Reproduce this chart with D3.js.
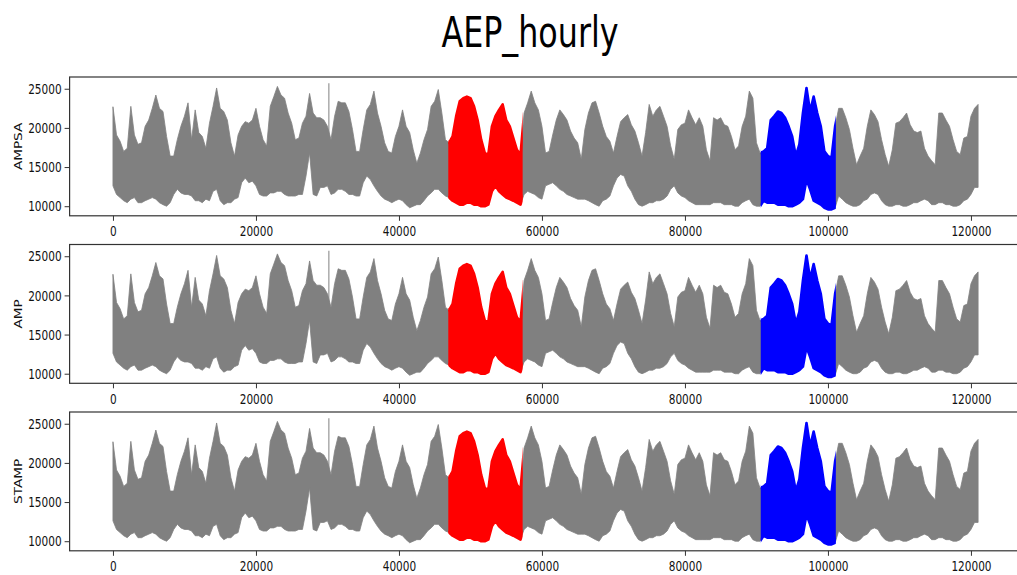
<!DOCTYPE html>
<html><head><meta charset="utf-8">
<script src="https://cdn.jsdelivr.net/npm/d3@7"></script>
<style>body{margin:0;background:#fff}</style>
</head><body><svg id="c" width="1017" height="575"></svg>
<script>
// ---------- data ----------
const title = "AEP_hourly";
const seriesNames = ["AMPSA", "AMP", "STAMP"];
const nHours = 121272;
const stepHours = 500;
// envelope of the hourly load, one sample every 500 hours (MW / 1000)
const hiK = [
 22.7,19.1,18.3,17.0,17.4,22.75,19.1,17.9,18.1,20.2,
 21.0,22.5,24.2,22.5,22.1,18.9,16.4,16.4,18.5,20.2,
 21.5,23.2,18.5,22.3,19.4,18.9,17.4,20.6,22.75,25.1,
 22.5,22.1,21.0,18.1,16.4,19.1,20.2,20.8,20.6,21.0,
 22.5,20.2,18.5,17.7,22.75,24.0,25.3,24.2,23.8,21.9,
 20.6,18.5,18.7,20.6,21.5,24.4,21.9,21.3,21.3,21.0,
 20.2,18.5,21.5,23.4,23.2,23.2,22.1,19.8,17.0,17.0,
 19.8,22.3,23.0,24.7,21.9,20.2,18.1,17.0,16.8,18.9,
 20.2,22.3,20.2,19.4,17.2,15.5,16.8,18.5,19.8,22.75,
 23.4,24.9,21.9,18.5,18.1,18.9,21.5,23.4,23.8,24.0,
 23.8,22.75,21.0,18.5,16.8,16.6,20.2,21.5,22.3,23.0,
 21.0,20.2,18.7,17.2,16.6,21.9,23.2,24.7,23.2,22.3,
 20.2,16.8,17.0,19.1,21.0,22.3,21.7,21.0,19.6,18.7,
 18.1,16.0,19.8,21.9,23.2,23.4,21.9,20.2,18.9,18.3,
 16.8,18.9,20.8,21.3,21.7,20.4,19.6,18.1,16.4,19.4,
 23.0,21.5,22.3,22.75,21.5,20.2,17.7,16.0,19.8,20.4,
 20.6,22.3,21.3,20.4,21.3,20.2,17.2,15.8,21.3,21.0,
 21.3,20.4,20.2,18.9,17.2,17.7,20.2,21.5,24.7,23.8,
 18.1,16.8,17.0,17.4,21.0,21.5,22.1,21.9,21.3,20.2,
 18.9,16.4,17.9,21.9,25.1,22.1,24.0,21.9,20.2,17.0,
 16.4,16.2,20.2,22.5,22.5,21.3,19.8,17.4,15.3,16.4,
 17.4,20.2,22.3,21.7,20.8,18.5,16.6,15.1,17.2,20.6,
 20.8,21.3,21.9,20.4,19.6,19.4,19.6,17.4,16.4,15.8,
 15.3,21.9,21.9,21.0,20.2,18.5,17.0,16.6,18.7,18.9,
 21.5,22.5,23.0];
const loK = [
 12.6,11.5,11.1,10.7,10.45,10.9,11.1,10.45,10.45,10.7,
 10.9,11.1,10.9,10.45,10.2,10.0,10.45,11.5,12.15,11.7,
 11.5,11.5,11.3,10.7,10.7,10.45,10.9,10.7,11.9,12.15,
 10.7,10.2,10.45,10.45,10.9,11.1,13.0,13.6,13.0,13.2,
 12.6,11.5,11.3,11.3,11.7,11.7,11.9,11.9,11.5,11.3,
 11.3,11.3,11.5,11.5,13.85,16.8,11.5,11.3,12.4,12.4,
 12.6,11.5,11.7,12.15,12.15,11.9,11.5,11.5,11.3,11.3,
 13.0,13.85,13.4,12.6,11.9,11.3,10.9,10.7,10.45,10.7,
 10.9,10.7,10.2,9.8,10.0,10.2,10.2,10.7,11.3,11.7,
 12.15,12.15,11.7,11.3,11.1,10.7,10.45,10.2,10.2,10.45,
 10.45,10.2,10.2,10.0,10.0,10.2,11.9,12.6,11.9,11.5,
 11.1,10.9,10.7,10.45,10.2,11.5,11.9,11.7,11.5,11.1,
 10.9,12.6,12.8,13.0,12.6,12.15,11.9,11.5,11.3,11.1,
 10.9,10.9,10.9,10.7,10.45,10.2,10.0,10.7,10.9,11.3,
 12.6,13.6,14.05,13.85,12.6,11.9,10.9,10.2,10.0,10.2,
 10.45,10.45,10.7,10.7,10.9,11.3,12.15,12.6,11.7,11.3,
 11.1,10.7,10.45,10.2,10.2,10.2,10.2,10.2,10.45,10.45,
 10.45,10.2,10.2,10.2,10.0,10.0,10.45,10.7,10.9,10.2,
 10.0,10.0,10.7,10.45,10.45,10.45,10.2,10.2,10.2,10.0,
 10.0,10.2,10.45,10.9,13.4,12.15,10.7,10.45,10.2,9.8,
 9.6,9.6,9.8,11.3,10.9,10.45,10.2,10.0,10.0,10.2,
 10.7,10.9,11.5,11.7,11.5,10.7,10.2,10.0,10.0,10.2,
 10.2,10.0,10.0,10.2,10.45,10.45,10.7,10.9,10.7,10.2,
 10.2,10.45,10.45,10.2,10.2,10.0,10.0,10.2,10.7,10.9,
 11.5,12.4,12.4];
const spikeHours = [30200];
const spikeK = [25.7];
const redSpan = [46900, 57300];
const blueSpan = [90600, 101100];
const xTicks = [0, 20000, 40000, 60000, 80000, 100000, 120000];
const yTicks = [10000, 15000, 20000, 25000];

// ---------- layout ----------
const sx = 0.73;                  // horizontal squeeze of the picture
const font = "DejaVu Sans";
const panelTop = [77, 244.5, 412];
const panelH = 138.8;
const left = 69.6, right = 1023.4;

const svg = d3.select("#c");
const data = hiK.map((h, i) => ({hour: Math.min(i * stepHours, nHours), hi: h * 1000, lo: loK[i] * 1000}));

const x = d3.scaleLinear().domain([-0.05 * nHours, 1.05 * nHours]).range([left, right]);

// title
svg.append("text")
  .attr("transform", `translate(530,46.7) scale(${sx},1)`)
  .attr("text-anchor", "middle")
  .attr("font-family", font).attr("font-size", 43.5)
  .attr("fill", "#000")
  .text(title);

const defs = svg.append("defs");

seriesNames.forEach((name, p) => {
  const top = panelTop[p];
  const y = d3.scaleLinear().domain([8775, 26500]).range([top + panelH, top]);
  const g = svg.append("g");

  const area = d3.area().x(d => x(d.hour)).y0(d => y(d.lo)).y1(d => y(d.hi));

  // grey full series
  g.append("path").datum(data).attr("d", area)
    .attr("fill", "#808080").attr("stroke", "#808080").attr("stroke-width", 0.8)
    .attr("stroke-linejoin", "miter");

  // spike
  spikeHours.forEach((h, i) => {
    const b = Math.round(h / stepHours);
    g.append("line")
      .attr("x1", x(h)).attr("x2", x(h))
      .attr("y1", y(data[b].lo)).attr("y2", y(spikeK[i] * 1000))
      .attr("stroke", "#808080").attr("stroke-width", 1);
  });

  // highlighted spans
  [[redSpan, "#ff0000"], [blueSpan, "#0000ff"]].forEach(([span, col], k) => {
    const id = `clip${p}_${k}`;
    defs.append("clipPath").attr("id", id).append("rect")
      .attr("x", x(span[0])).attr("width", x(span[1]) - x(span[0]))
      .attr("y", top - 5).attr("height", panelH + 10);
    g.append("path").datum(data).attr("d", area)
      .attr("clip-path", `url(#${id})`)
      .attr("fill", col).attr("stroke", col).attr("stroke-width", 2.6)
      .attr("stroke-linejoin", "round");
  });

  // spines
  g.append("rect").attr("x", left).attr("y", top)
    .attr("width", right - left).attr("height", panelH)
    .attr("fill", "none").attr("stroke", "#333").attr("stroke-width", 1.2);

  // x axis
  const xa = g.append("g").attr("transform", `translate(0,${top + panelH})`)
    .call(d3.axisBottom(x).tickValues(xTicks).tickFormat(d3.format("d"))
      .tickSize(5).tickSizeOuter(0).tickPadding(5));
  xa.select(".domain").remove();
  xa.selectAll("line").attr("stroke", "#333");
  xa.selectAll("text").attr("transform", `scale(${sx},1)`)
    .attr("font-family", font).attr("font-size", 14.4).attr("fill", "#111");

  // y axis
  const ya = g.append("g").attr("transform", `translate(${left},0)`)
    .call(d3.axisLeft(y).tickValues(yTicks).tickFormat(d3.format("d"))
      .tickSize(5).tickSizeOuter(0).tickPadding(6));
  ya.select(".domain").remove();
  ya.selectAll("line").attr("stroke", "#333");
  ya.selectAll("text").attr("transform", `scale(${sx},1)`)
    .attr("font-family", font).attr("font-size", 14.4).attr("fill", "#111");

  // y label
  g.append("text")
    .attr("transform", `translate(21.5,${top + panelH / 2}) scale(${sx},1) rotate(-90)`)
    .attr("text-anchor", "middle")
    .attr("font-family", font).attr("font-size", 13.6).attr("fill", "#111")
    .text(name);
});
</script>
</body></html>
